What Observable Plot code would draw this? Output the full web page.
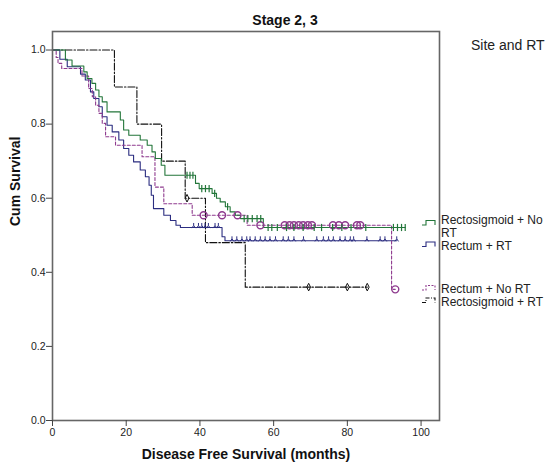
<!DOCTYPE html>
<html>
<head>
<meta charset="utf-8">
<script src="https://cdn.jsdelivr.net/npm/d3@7"></script>
<script src="https://cdn.jsdelivr.net/npm/@observablehq/plot@0.6"></script>
<style>
  body { margin: 0; background: #fff; }
  #chart svg { font-family: "Liberation Sans", Arial, sans-serif; }
</style>
</head>
<body>
<div id="chart"></div>
<script>
// Kaplan-Meier disease free survival, stage 2-3, by tumour site and radiotherapy

const groups = ["Rectosigmoid + No RT", "Rectum + RT", "Rectum + No RT", "Rectosigmoid + RT"];
const xTicks = [0, 20, 40, 60, 80, 100];
const yTicks = [0, 0.2, 0.4, 0.6, 0.8, 1.0];

// Rectosigmoid + No RT: event times (months) and survival after each step
const rsNoRtTimes = [0, 3.5, 5.3, 8.5, 9.4, 10.7, 11.7, 12.6, 13.5, 14.8, 18.4, 19.3, 20.7, 23.8, 25.7, 27.0, 27.9, 29.5, 30.5, 38.8, 39.8, 43.3, 44.5, 45.5, 46.9, 48.2, 49.6, 51.0, 57.2];
const rsNoRtSurv  = [1.0, 0.973, 0.957, 0.941, 0.923, 0.91, 0.892, 0.874, 0.86, 0.833, 0.811, 0.784, 0.77, 0.757, 0.743, 0.725, 0.707, 0.689, 0.662, 0.64, 0.626, 0.613, 0.60, 0.59, 0.577, 0.563, 0.554, 0.545, 0.521];
const rsNoRtCensor = [36.5, 37.3, 38.1, 40.5, 41.5, 42.5, 44.0, 47.5, 52.0, 53.0, 54.2, 55.5, 56.5, 58.5, 59.5, 61.0, 63.5, 65.5, 68.0, 71.0, 73.0, 76.0, 78.5, 81.0, 85.0, 92.5, 93.6, 94.7, 95.7];

// Rectum + RT
const reRtTimes = [0, 2.0, 4.0, 7.6, 8.9, 10.3, 11.2, 12.6, 13.5, 14.8, 16.2, 18.0, 19.3, 20.7, 22.0, 23.8, 25.2, 26.2, 26.8, 27.4, 30.2, 32.0, 33.5, 34.7, 46.0, 46.8];
const reRtSurv  = [1.0, 0.975, 0.955, 0.935, 0.919, 0.887, 0.869, 0.847, 0.82, 0.797, 0.779, 0.757, 0.734, 0.716, 0.698, 0.676, 0.658, 0.635, 0.608, 0.572, 0.554, 0.54, 0.527, 0.521, 0.496, 0.485];
const reRtCensor = [38.3, 39.6, 40.5, 41.4, 42.3, 44.1, 45.0, 48.7, 50.0, 51.4, 52.7, 53.6, 55.0, 56.4, 57.7, 59.0, 60.5, 62.6, 64.0, 65.5, 68.1, 71.7, 73.5, 74.9, 76.2, 78.0, 79.4, 80.8, 81.7, 85.3, 88.9, 90.2, 93.4];

// Rectum + No RT
const reNoRtTimes = [0, 1.0, 1.5, 2.5, 8.0, 9.8, 10.8, 11.7, 12.6, 13.5, 14.4, 17.1, 24.3, 27.8, 30.2, 37.9, 52.8, 92.0];
const reNoRtSurv  = [1.0, 0.98, 0.964, 0.95, 0.93, 0.896, 0.874, 0.851, 0.829, 0.802, 0.766, 0.743, 0.712, 0.63, 0.585, 0.554, 0.527, 0.354];
const reNoRtCensor = [41.0, 46.0, 50.2, 56.4, 63.0, 64.3, 65.5, 66.8, 68.0, 69.3, 70.4, 76.1, 77.7, 79.4, 82.6, 83.5, 93.0];

// Rectosigmoid + RT
const rsRtTimes = [0, 16.8, 22.9, 29.6, 36.0, 41.5, 52.3];
const rsRtSurv  = [1.0, 0.9, 0.8, 0.7, 0.6, 0.48, 0.36];
const rsRtCensor = [36.5, 69.5, 80.0, 85.4];

// step curve points, extended to the last censored observation
function stepPoints(times, surv, censor) {
  const pts = times.map((t, i) => ({t, s: surv[i]}));
  const end = d3.max(censor);
  if (end > times[times.length - 1]) pts.push({t: end, s: surv[surv.length - 1]});
  return pts;
}
// censor marks sit on the curve at their time
function censorPoints(times, surv, censor) {
  return censor.map(t => ({t, s: surv[d3.bisectRight(times, t) - 1]}));
}

// small custom censor glyphs
const vbar = {draw(ctx) { ctx.moveTo(0, -3.6); ctx.lineTo(0, 3.6); }};
const tent = {draw(ctx) { ctx.moveTo(-1.8, 0.6); ctx.lineTo(0, -2); ctx.lineTo(1.8, 0.6); ctx.moveTo(0, -2); ctx.lineTo(0, -4.5); }};
const diamond = {draw(ctx) { ctx.moveTo(0, -3.8); ctx.lineTo(1.9, 0); ctx.lineTo(0, 3.8); ctx.lineTo(-1.9, 0); ctx.closePath(); }};

const series = [
  {name: groups[0], times: rsNoRtTimes, surv: rsNoRtSurv, censor: rsNoRtCensor, color: "#23763a", dash: null, symbol: vbar, r: 3, sw: 1.2},
  {name: groups[1], times: reRtTimes, surv: reRtSurv, censor: reRtCensor, color: "#2b2d80", dash: null, symbol: tent, r: 3, sw: 1},
  {name: groups[2], times: reNoRtTimes, surv: reNoRtSurv, censor: reNoRtCensor, color: "#8e3a8e", dash: "3,2", symbol: "circle", r: 3.5, sw: 1.4},
  {name: groups[3], times: rsRtTimes, surv: rsRtSurv, censor: rsRtCensor, color: "#111111", dash: "7,2,1.5,2", symbol: diamond, r: 3, sw: 1}
];

const drawOrder = [3, 1, 2, 0];
const marks = [];
for (const i of drawOrder) {
  const s = series[i];
  marks.push(Plot.line(stepPoints(s.times, s.surv, s.censor), {
    x: "t", y: "s", curve: "step-after", stroke: s.color, strokeWidth: 1.1,
    strokeDasharray: s.dash
  }));
}
for (const i of drawOrder) {
  const s = series[i];
  marks.push(Plot.dot(censorPoints(s.times, s.surv, s.censor), {
    x: "t", y: "s", symbol: s.symbol, r: s.r, fill: "none", stroke: s.color, strokeWidth: s.sw
  }));
}

const chart = Plot.plot({
  width: 549,
  height: 464,
  marginLeft: 52,
  marginRight: 110,
  marginTop: 31,
  marginBottom: 44,
  style: {background: "#fff", fontSize: "10.5px", color: "#222", fontFamily: "'Liberation Sans', Arial, sans-serif"},
  x: {domain: [0, 105]},
  y: {domain: [0, 1.05]},
  marks: [
    ...marks,
    Plot.frame({stroke: "#666", strokeWidth: 1.6}),
    Plot.axisX(xTicks, {tickSize: 6, tickPadding: 2, label: null, stroke: "#444"}),
    Plot.axisY(yTicks, {tickSize: 6, tickPadding: 1, tickFormat: d3.format(".1f"), label: null, stroke: "#444"}),
    Plot.text(["Disease Free Survival (months)"], {frameAnchor: "bottom", dy: 38, text: d => d, fontSize: 14, fontWeight: "bold", fill: "#111"}),
    Plot.text(["Cum Survival"], {frameAnchor: "left", dx: -37, rotate: -90, text: d => d, fontSize: 14, fontWeight: "bold", fill: "#111"})
  ]
});

document.getElementById("chart").appendChild(chart);

// titles and legend drawn into the same SVG
const svg = d3.select(chart);
svg.append("text").attr("x", 285).attr("y", 25).attr("text-anchor", "middle")
  .attr("font-size", 14).attr("font-weight", "bold").attr("fill", "#111").text("Stage 2, 3");
svg.append("text").attr("x", 471).attr("y", 50).attr("text-anchor", "start")
  .attr("font-size", 14).attr("fill", "#222").text("Site and RT");

const legendRows = [
  {lines: ["Rectosigmoid + No", "RT"], baseline: 223.5, swatchTop: 220.5},
  {lines: ["Rectum + RT"], baseline: 250, swatchTop: 242},
  {lines: ["Rectum + No RT"], baseline: 292.5, swatchTop: 285.5},
  {lines: ["Rectosigmoid + RT"], baseline: 305.5, swatchTop: 298}
];
legendRows.forEach((row, i) => {
  const s = series[i];
  svg.append("path")
    .attr("transform", `translate(422,${row.swatchTop})`)
    .attr("d", "M0,4.5H4V0H13V4.5")
    .attr("fill", "none").attr("stroke", s.color).attr("stroke-width", 1.1)
    .attr("stroke-dasharray", s.dash ? (i === 3 ? "4,1.5,1,1.5" : "2,1.5") : null);
  row.lines.forEach((line, j) => {
    svg.append("text").attr("x", 441).attr("y", row.baseline + j * 13)
      .attr("text-anchor", "start")
      .attr("font-size", 12).attr("fill", "#222").text(line);
  });
});
</script>
</body>
</html>
